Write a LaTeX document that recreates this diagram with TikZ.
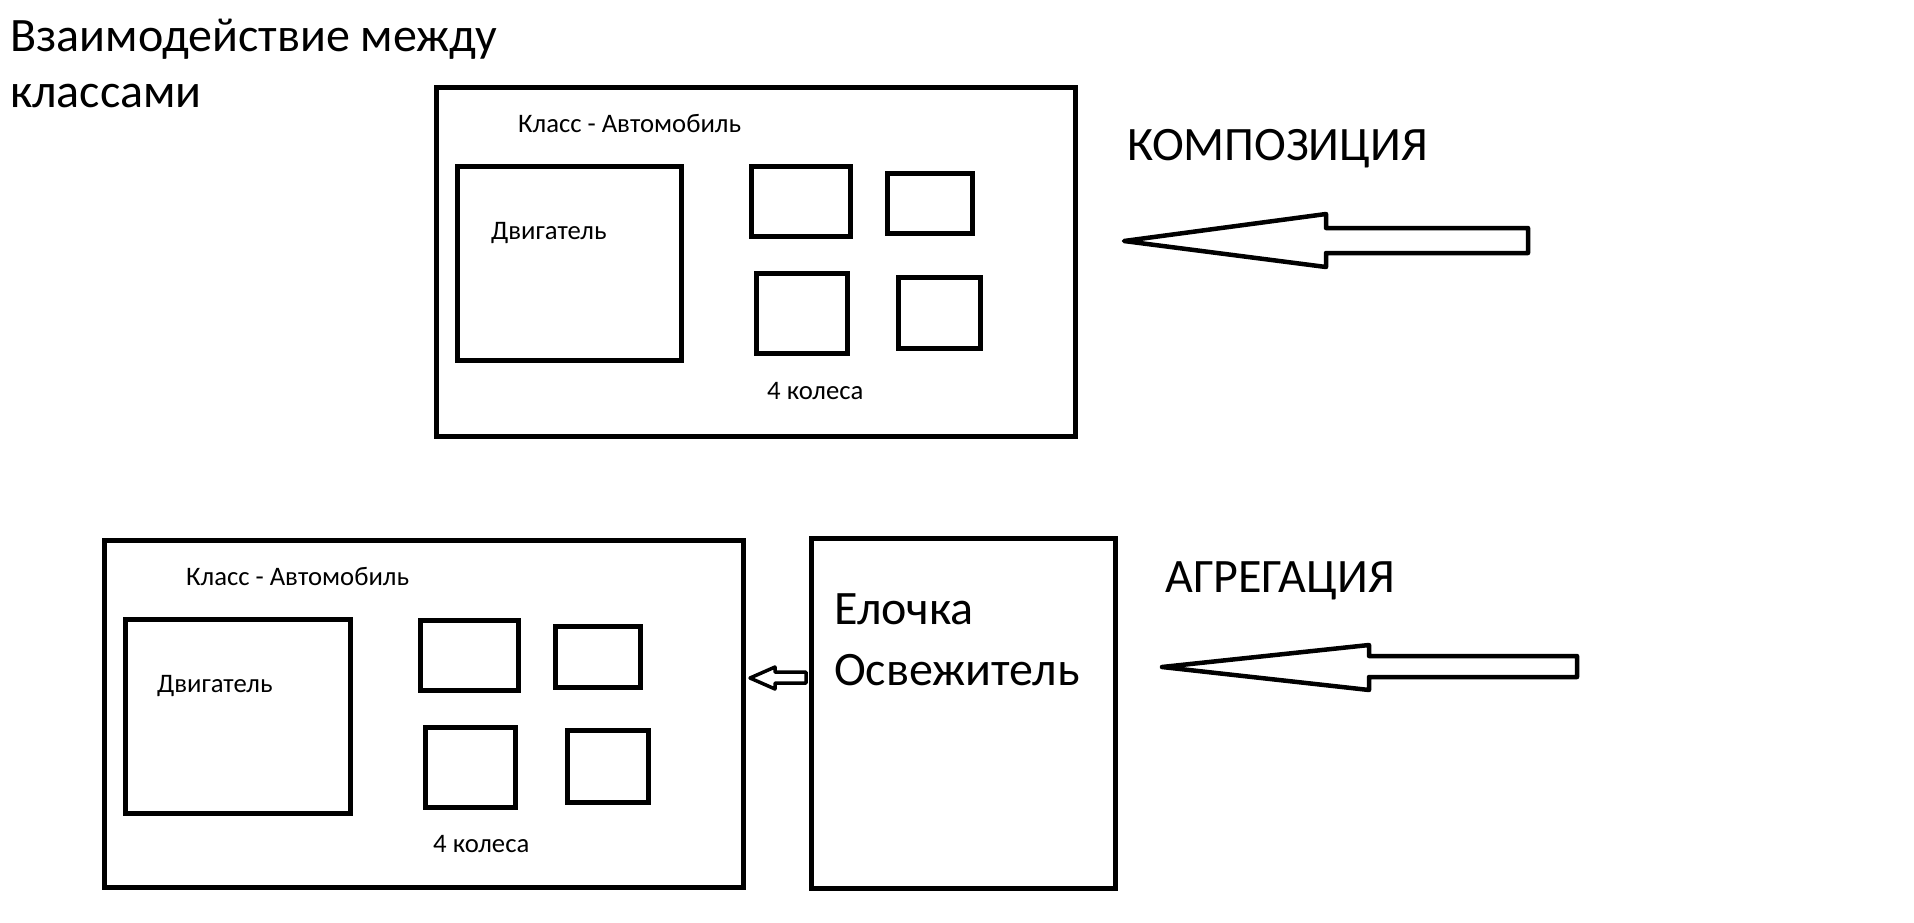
\documentclass[tikz,border=0pt]{standalone}
\usepackage{fontspec}
\setmainfont{Carlito}
\begin{document}
\begin{tikzpicture}[x=1pt,y=-1pt,
  box/.style={draw, line width=5pt, inner sep=0pt, outer sep=0pt, rectangle},
  bigtxt/.style={anchor=base west, inner sep=0pt, font=\fontsize{48}{58}\selectfont},
  smalltxt/.style={anchor=base west, inner sep=0pt, font=\fontsize{26.7}{32}\selectfont},
  blockarrow/.style={draw, line width=4.5pt, line join=round, fill=white}]
\useasboundingbox[fill=white] (0,0) rectangle (1914,922);

% title
\node[bigtxt] (t1) at (10,51) {Взаимодействие между};
\node[bigtxt] (t2) at (10,107) {классами};

% composition: car
\node[box, minimum width=639pt, minimum height=349pt] (car1) at (755.5,261.5) {};
\node[smalltxt] (car1lbl) at (518,132) {Класс - Автомобиль};
\node[box, minimum width=224pt, minimum height=194pt] (eng1) at (569,263) {};
\node[smalltxt] (eng1lbl) at (491,239) {Двигатель};
\node[box, minimum width=99pt, minimum height=70pt] (w11) at (800.5,201) {};
\node[box, minimum width=85pt, minimum height=60pt] (w12) at (929.5,203) {};
\node[box, minimum width=91pt, minimum height=80pt] (w13) at (801.5,313) {};
\node[box, minimum width=82pt, minimum height=71pt] (w14) at (939,312.5) {};
\node[smalltxt] (wh1lbl) at (767,399) {4 колеса};

\node[bigtxt] (comp) at (1127,160) {КОМПОЗИЦИЯ};
\draw[blockarrow] (1124,241) -- (1326,214) -- (1326,228) -- (1528,228) -- (1528,253)
  -- (1326,253) -- (1326,267) -- cycle;

% aggregation: car
\node[box, minimum width=639pt, minimum height=347pt] (car2) at (423.5,713.5) {};
\node[smalltxt] (car2lbl) at (186,585) {Класс - Автомобиль};
\node[box, minimum width=225pt, minimum height=194pt] (eng2) at (237.5,716) {};
\node[smalltxt] (eng2lbl) at (157,692) {Двигатель};
\node[box, minimum width=98pt, minimum height=70pt] (w21) at (469,655) {};
\node[box, minimum width=85pt, minimum height=61pt] (w22) at (597.5,656.5) {};
\node[box, minimum width=90pt, minimum height=80pt] (w23) at (470,767) {};
\node[box, minimum width=81pt, minimum height=72pt] (w24) at (607.5,766) {};
\node[smalltxt] (wh2lbl) at (433,852) {4 колеса};

% air freshener
\node[box, minimum width=304pt, minimum height=350pt] (fresh) at (963,713) {};
\node[bigtxt] (fr1) at (834,624) {Елочка};
\node[bigtxt] (fr2) at (834,685) {Освежитель};

% small arrow from freshener to car
\draw[line width=3.5pt, line join=round] (750,678) -- (775,667) -- (775,672) -- (806,672)
  -- (806,683) -- (775,683) -- (775,689) -- cycle;

\node[bigtxt] (aggr) at (1165,592) {АГРЕГАЦИЯ};
\draw[blockarrow] (1162,667) -- (1369,645) -- (1369,656) -- (1577,656) -- (1577,677)
  -- (1369,677) -- (1369,690) -- cycle;
\end{tikzpicture}
\end{document}
